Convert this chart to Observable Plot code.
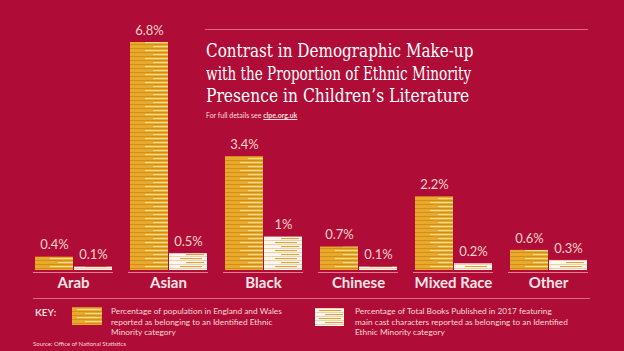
<!DOCTYPE html>
<html><head><meta charset="utf-8">
<script src="https://cdn.jsdelivr.net/npm/d3@7"></script>
<script src="https://cdn.jsdelivr.net/npm/@observablehq/plot@0.6"></script>
<style>
html,body{margin:0;padding:0;background:#b00c38;}
#wrap{position:relative;width:624px;height:351px;overflow:hidden;background:#b00c38;font-family:Lato,"Open Sans",sans-serif;color:#fff;}
#chart{position:absolute;left:0;top:0;}
.abs{position:absolute;white-space:nowrap;}
.title{left:206px;top:40px;font-family:"DejaVu Serif",serif;font-size:18px;line-height:22.5px;color:#fff;}
.title span{display:inline-block;white-space:nowrap;transform-origin:0 50%;}
.rule{position:absolute;height:1px;background:#d86a82;}
.sub{left:206px;top:111px;font-size:7px;line-height:9px;color:#f6dede;}
.sub b{text-decoration:underline;}
.keylab{left:35px;top:306px;font-size:10px;line-height:12px;font-weight:bold;color:#f3dada;}
.keytxt{font-size:8.3px;line-height:10.5px;color:#f6d9d0;}
.src{left:33px;top:340px;font-size:6px;line-height:8px;color:#f3d6d6;}
</style></head>
<body><div id="wrap">
<svg width="0" height="0" style="position:absolute">
<defs>
<pattern id="goldStack" patternUnits="userSpaceOnUse" width="44" height="8">
<rect width="44" height="8" fill="#e9aa2c"/>
<rect y="0" width="44" height="0.8" fill="#c98719"/>
<rect x="5" y="2" width="24" height="1.1" fill="#f8dc8e"/>
<rect y="4" width="44" height="0.8" fill="#c98719"/>
<rect x="13" y="6" width="20" height="1.1" fill="#f8dc8e"/>
</pattern>
<pattern id="whiteStack" patternUnits="userSpaceOnUse" width="40" height="8">
<rect width="40" height="8" fill="#fdf7ef"/>
<rect y="0" width="40" height="0.8" fill="#e7c994"/>
<rect x="4" y="2" width="22" height="1.1" fill="#dca43c"/>
<rect y="4" width="40" height="0.8" fill="#e7c994"/>
<rect x="10" y="6" width="18" height="1.1" fill="#dca43c"/>
</pattern>
</defs>
</svg>
<div id="chart"></div>
<div class="rule" style="left:205px;top:29px;width:383px;"></div>
<div class="abs title" id="title"></div>
<div class="abs sub" id="sub"></div>
<div class="rule" style="left:33px;top:298px;width:557px;"></div>
<div class="abs keylab" id="keylab"></div>
<svg class="abs" style="left:72px;top:307px" width="32" height="19"><rect x="0" y="0" width="30" height="18" fill="url(#goldStack)"/></svg>
<div class="abs keytxt" id="key1" style="left:111px;top:306px;"></div>
<svg class="abs" style="left:315px;top:308px" width="32" height="20"><rect x="0" y="0" width="29" height="18" fill="url(#whiteStack)"/></svg>
<div class="abs keytxt" id="key2" style="left:355px;top:306px;"></div>
<div class="abs src" id="src"></div>
</div>
<script>
const categories = ["Arab", "Asian", "Black", "Chinese", "Mixed Race", "Other"];
const populationPct = [0.4, 6.8, 3.4, 0.7, 2.2, 0.6];
const booksPct = [0.1, 0.5, 1, 0.1, 0.2, 0.3];
const seriesNames = ["Population", "Books"];
const titleLines = ["Contrast in Demographic Make-up", "with the Proportion of Ethnic Minority", "Presence in Children\u2019s Literature"];
const subtitlePrefix = "For full details see ";
const subtitleLink = "clpe.org.uk";
const keyLabel = "KEY:";
const key1Lines = ["Percentage of population in England and Wales", "reported as belonging to an Identified Ethnic", "Minority category"];
const key2Lines = ["Percentage of Total Books Published in 2017 featuring", "main cast characters reported as belonging to an Identified", "Ethnic Minority category"];
const sourceText = "Source: Office of National Statistics";

const rows = categories.flatMap((c, i) => [
  {category: c, series: seriesNames[0], value: populationPct[i]},
  {category: c, series: seriesNames[1], value: booksPct[i]}
]);
const catRows = categories.map(c => ({category: c}));

const chart = Plot.plot({
  width: 624, height: 300,
  marginTop: 42, marginBottom: 30, marginLeft: 32, marginRight: 36,
  style: {background: "transparent", fontFamily: "Lato, sans-serif", overflow: "visible"},
  fx: {domain: categories, paddingInner: 0.16, paddingOuter: 0, axis: null, label: null},
  x: {domain: seriesNames, padding: 0.03, axis: null},
  y: {domain: [0, d3.max(populationPct)], axis: null},
  marks: [
    Plot.ruleY([0], {stroke: "#e27a90", strokeWidth: 1, dy: 2}),
    Plot.barY(rows.filter(d => d.series === seriesNames[0]), {fx: "category", x: "series", y: "value", fill: "url(#goldStack)"}),
    Plot.barY(rows.filter(d => d.series === seriesNames[1]), {fx: "category", x: "series", y: "value", fill: "url(#whiteStack)"}),
    Plot.text(rows, {fx: "category", x: "series", y: "value", text: d => d.value + "%", dy: -12, fill: "#f7d4c6", fontSize: 13, fontFamily: "Lato, sans-serif"}),
    Plot.text(catRows, {fx: "category", frameAnchor: "bottom", lineAnchor: "middle", dy: 13, text: "category", fill: "#f9e6e6", fontSize: 15, fontWeight: "bold", fontFamily: "Lato, sans-serif"})
  ]
});
document.getElementById("chart").appendChild(chart);

const tEl = document.getElementById("title");
titleLines.forEach(t => {
  const d = document.createElement("div");
  const sp = document.createElement("span");
  sp.textContent = t;
  d.appendChild(sp);
  tEl.appendChild(d);
});
const s = document.getElementById("sub");
s.textContent = subtitlePrefix;
const b = document.createElement("b"); b.textContent = subtitleLink; s.appendChild(b);
document.getElementById("keylab").textContent = keyLabel;
document.getElementById("key1").innerHTML = key1Lines.join("<br>");
document.getElementById("key2").innerHTML = key2Lines.join("<br>");
document.getElementById("src").textContent = sourceText;

function fitTitle() {
  const targets = [267, 265, 263];
  tEl.querySelectorAll("span").forEach((sp, i) => {
    sp.style.transform = "none";
    const w = sp.offsetWidth;
    sp.style.transform = "scaleX(" + (targets[i] / Math.max(w, 1)) + ")";
  });
}
fitTitle();
if (document.fonts && document.fonts.ready) document.fonts.ready.then(fitTitle);
</script>
</body></html>
